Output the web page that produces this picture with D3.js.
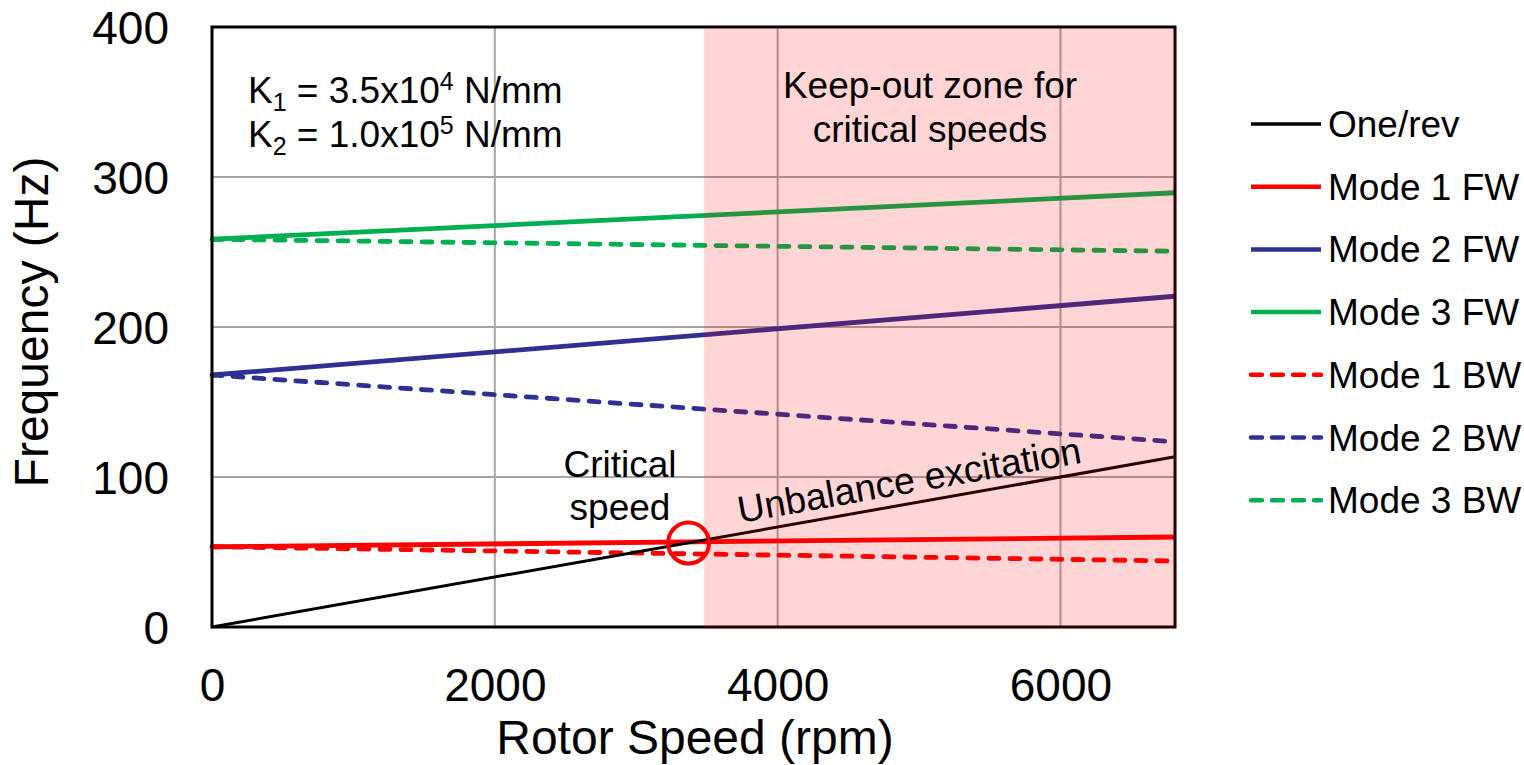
<!DOCTYPE html>
<html><head><meta charset="utf-8">
<script src="https://cdn.jsdelivr.net/npm/d3@7"></script>
<style>body{margin:0;background:#fff}svg{display:block;font-family:"Liberation Sans",Arial,sans-serif}</style>
</head><body><svg id="c" width="1524" height="765"></svg>
<script>
// ---- data ----
const speeds = [0, 6810];                 // rpm
const oneRev = [0, 113.5];                // Hz
const mode1FW = [53.5, 60.0];
const mode2FW = [168.0, 220.5];
const mode3FW = [258.5, 289.5];
const mode1BW = [53.5, 44.0];
const mode2BW = [168.0, 123.5];
const mode3BW = [258.5, 250.5];
const seriesNames = ["One/rev","Mode 1 FW","Mode 2 FW","Mode 3 FW","Mode 1 BW","Mode 2 BW","Mode 3 BW"];
const xTicks = [0, 2000, 4000, 6000];
const yTicks = [0, 100, 200, 300, 400];
const keepOutZone = [3480, 6810];
const criticalPoint = [3370, 56.0];

// ---- styles ----
const seriesData = [oneRev, mode1FW, mode2FW, mode3FW, mode1BW, mode2BW, mode3BW];
const colors = ["#000000","#ff0000","#2e3192","#00b050","#ff0000","#2e3192","#00b050"];
const dashed = [false,false,false,false,true,true,true];
const widths = [3,4.8,4.8,4.8,4.8,4.8,4.8];

const svg = d3.select("#c");
const x = d3.scaleLinear().domain([0, 6810]).range([212, 1175]);
const y = d3.scaleLinear().domain([0, 400]).range([627, 27]);

// gridlines
svg.append("g").selectAll("line.gx").data(xTicks.slice(1)).join("line")
  .attr("x1", d=>x(d)).attr("x2", d=>x(d)).attr("y1", y(0)).attr("y2", y(400))
  .attr("stroke", "#a6a6a6").attr("stroke-width", 2);
svg.append("g").selectAll("line.gy").data(yTicks.slice(1,4)).join("line")
  .attr("y1", d=>y(d)).attr("y2", d=>y(d)).attr("x1", x(0)).attr("x2", x(6810))
  .attr("stroke", "#a6a6a6").attr("stroke-width", 2);

// series lines (draw BW first then FW so solid on top)
const line = d3.line().x(d=>x(d[0])).y(d=>y(d[1]));
const order = [4,5,6,1,2,3,0];
order.forEach(i=>{
  const pts = speeds.map((s,k)=>[s, seriesData[i][k]]);
  svg.append("path").attr("d", line(pts)).attr("fill","none")
    .attr("stroke", colors[i]).attr("stroke-width", widths[i])
    .attr("stroke-linecap", dashed[i] ? "round" : "butt")
    .attr("stroke-dasharray", dashed[i] ? "10,11" : null);
});

// frame
svg.append("rect").attr("x", x(0)).attr("y", y(400)).attr("width", x(6810)-x(0)).attr("height", y(0)-y(400))
  .attr("fill","none").attr("stroke","#000").attr("stroke-width",3);

// keep-out overlay
svg.append("rect").attr("x", x(keepOutZone[0])).attr("y", y(400)+1.5)
  .attr("width", x(keepOutZone[1]) - x(keepOutZone[0]) + 1.5).attr("height", y(0)-y(400))
  .attr("fill", "rgba(255,0,0,0.165)");

// axes tick labels
const axisX = d3.axisBottom(x).tickValues(xTicks).tickSize(0).tickPadding(0).tickFormat(d3.format("d"));
const gx = svg.append("g").attr("transform", "translate(0,701)").call(axisX);
gx.select(".domain").remove();
gx.selectAll("text").attr("font-size", 46).attr("fill","#000").attr("dy", 0).attr("y", 0)
  .style("font-family", "Liberation Sans, Arial, sans-serif");
const axisY = d3.axisLeft(y).tickValues(yTicks).tickSize(0).tickPadding(0);
const gy = svg.append("g").attr("transform", "translate(169,0)").call(axisY);
gy.select(".domain").remove();
gy.selectAll("text").attr("font-size", 46).attr("fill","#000").attr("dy", "0.35em")
  .style("font-family", "Liberation Sans, Arial, sans-serif");

// axis titles
svg.append("text").attr("x", 695).attr("y", 754).attr("text-anchor","middle")
  .attr("font-size", 48).text("Rotor Speed (rpm)");
svg.append("text").attr("transform", "translate(48,322) rotate(-90)").attr("text-anchor","middle")
  .attr("font-size", 48).text("Frequency (Hz)");

// annotations
const k1 = svg.append("text").attr("x", 248).attr("y", 103).attr("font-size", 37);
k1.append("tspan").text("K");
k1.append("tspan").attr("font-size", 25).attr("dy", 8).text("1");
k1.append("tspan").attr("dy", -8).text(" = 3.5x10");
k1.append("tspan").attr("font-size", 25).attr("dy", -13).text("4");
k1.append("tspan").attr("dy", 13).text(" N/mm");
const k2 = svg.append("text").attr("x", 248).attr("y", 147).attr("font-size", 37);
k2.append("tspan").text("K");
k2.append("tspan").attr("font-size", 25).attr("dy", 8).text("2");
k2.append("tspan").attr("dy", -8).text(" = 1.0x10");
k2.append("tspan").attr("font-size", 25).attr("dy", -13).text("5");
k2.append("tspan").attr("dy", 13).text(" N/mm");

svg.append("text").attr("x", 930).attr("y", 98).attr("text-anchor","middle").attr("font-size",37).text("Keep-out zone for");
svg.append("text").attr("x", 930).attr("y", 142).attr("text-anchor","middle").attr("font-size",37).text("critical speeds");
svg.append("text").attr("x", 620).attr("y", 477).attr("text-anchor","middle").attr("font-size",37).text("Critical");
svg.append("text").attr("x", 620).attr("y", 520).attr("text-anchor","middle").attr("font-size",37).text("speed");
svg.append("text").attr("transform","translate(740,523) rotate(-10)").attr("font-size",37.5).text("Unbalance excitation");

// critical speed circle
svg.append("circle").attr("cx", x(criticalPoint[0])).attr("cy", y(criticalPoint[1])).attr("r", 20.5)
  .attr("fill","none").attr("stroke","#ff0000").attr("stroke-width",4);

// legend
const lg = svg.append("g");
seriesNames.forEach((n,i)=>{
  const ly = 124 + i*62.7;
  lg.append("line").attr("x1",1251).attr("x2",1321).attr("y1",ly).attr("y2",ly)
    .attr("stroke",colors[i]).attr("stroke-width", i===0?3.5:4.5)
    .attr("stroke-linecap", dashed[i] ? "round":"butt")
    .attr("stroke-dasharray", dashed[i] ? "11,10" : null);
  lg.append("text").attr("x",1328).attr("y",ly+13).attr("font-size",37).text(n);
});
</script></body></html>
